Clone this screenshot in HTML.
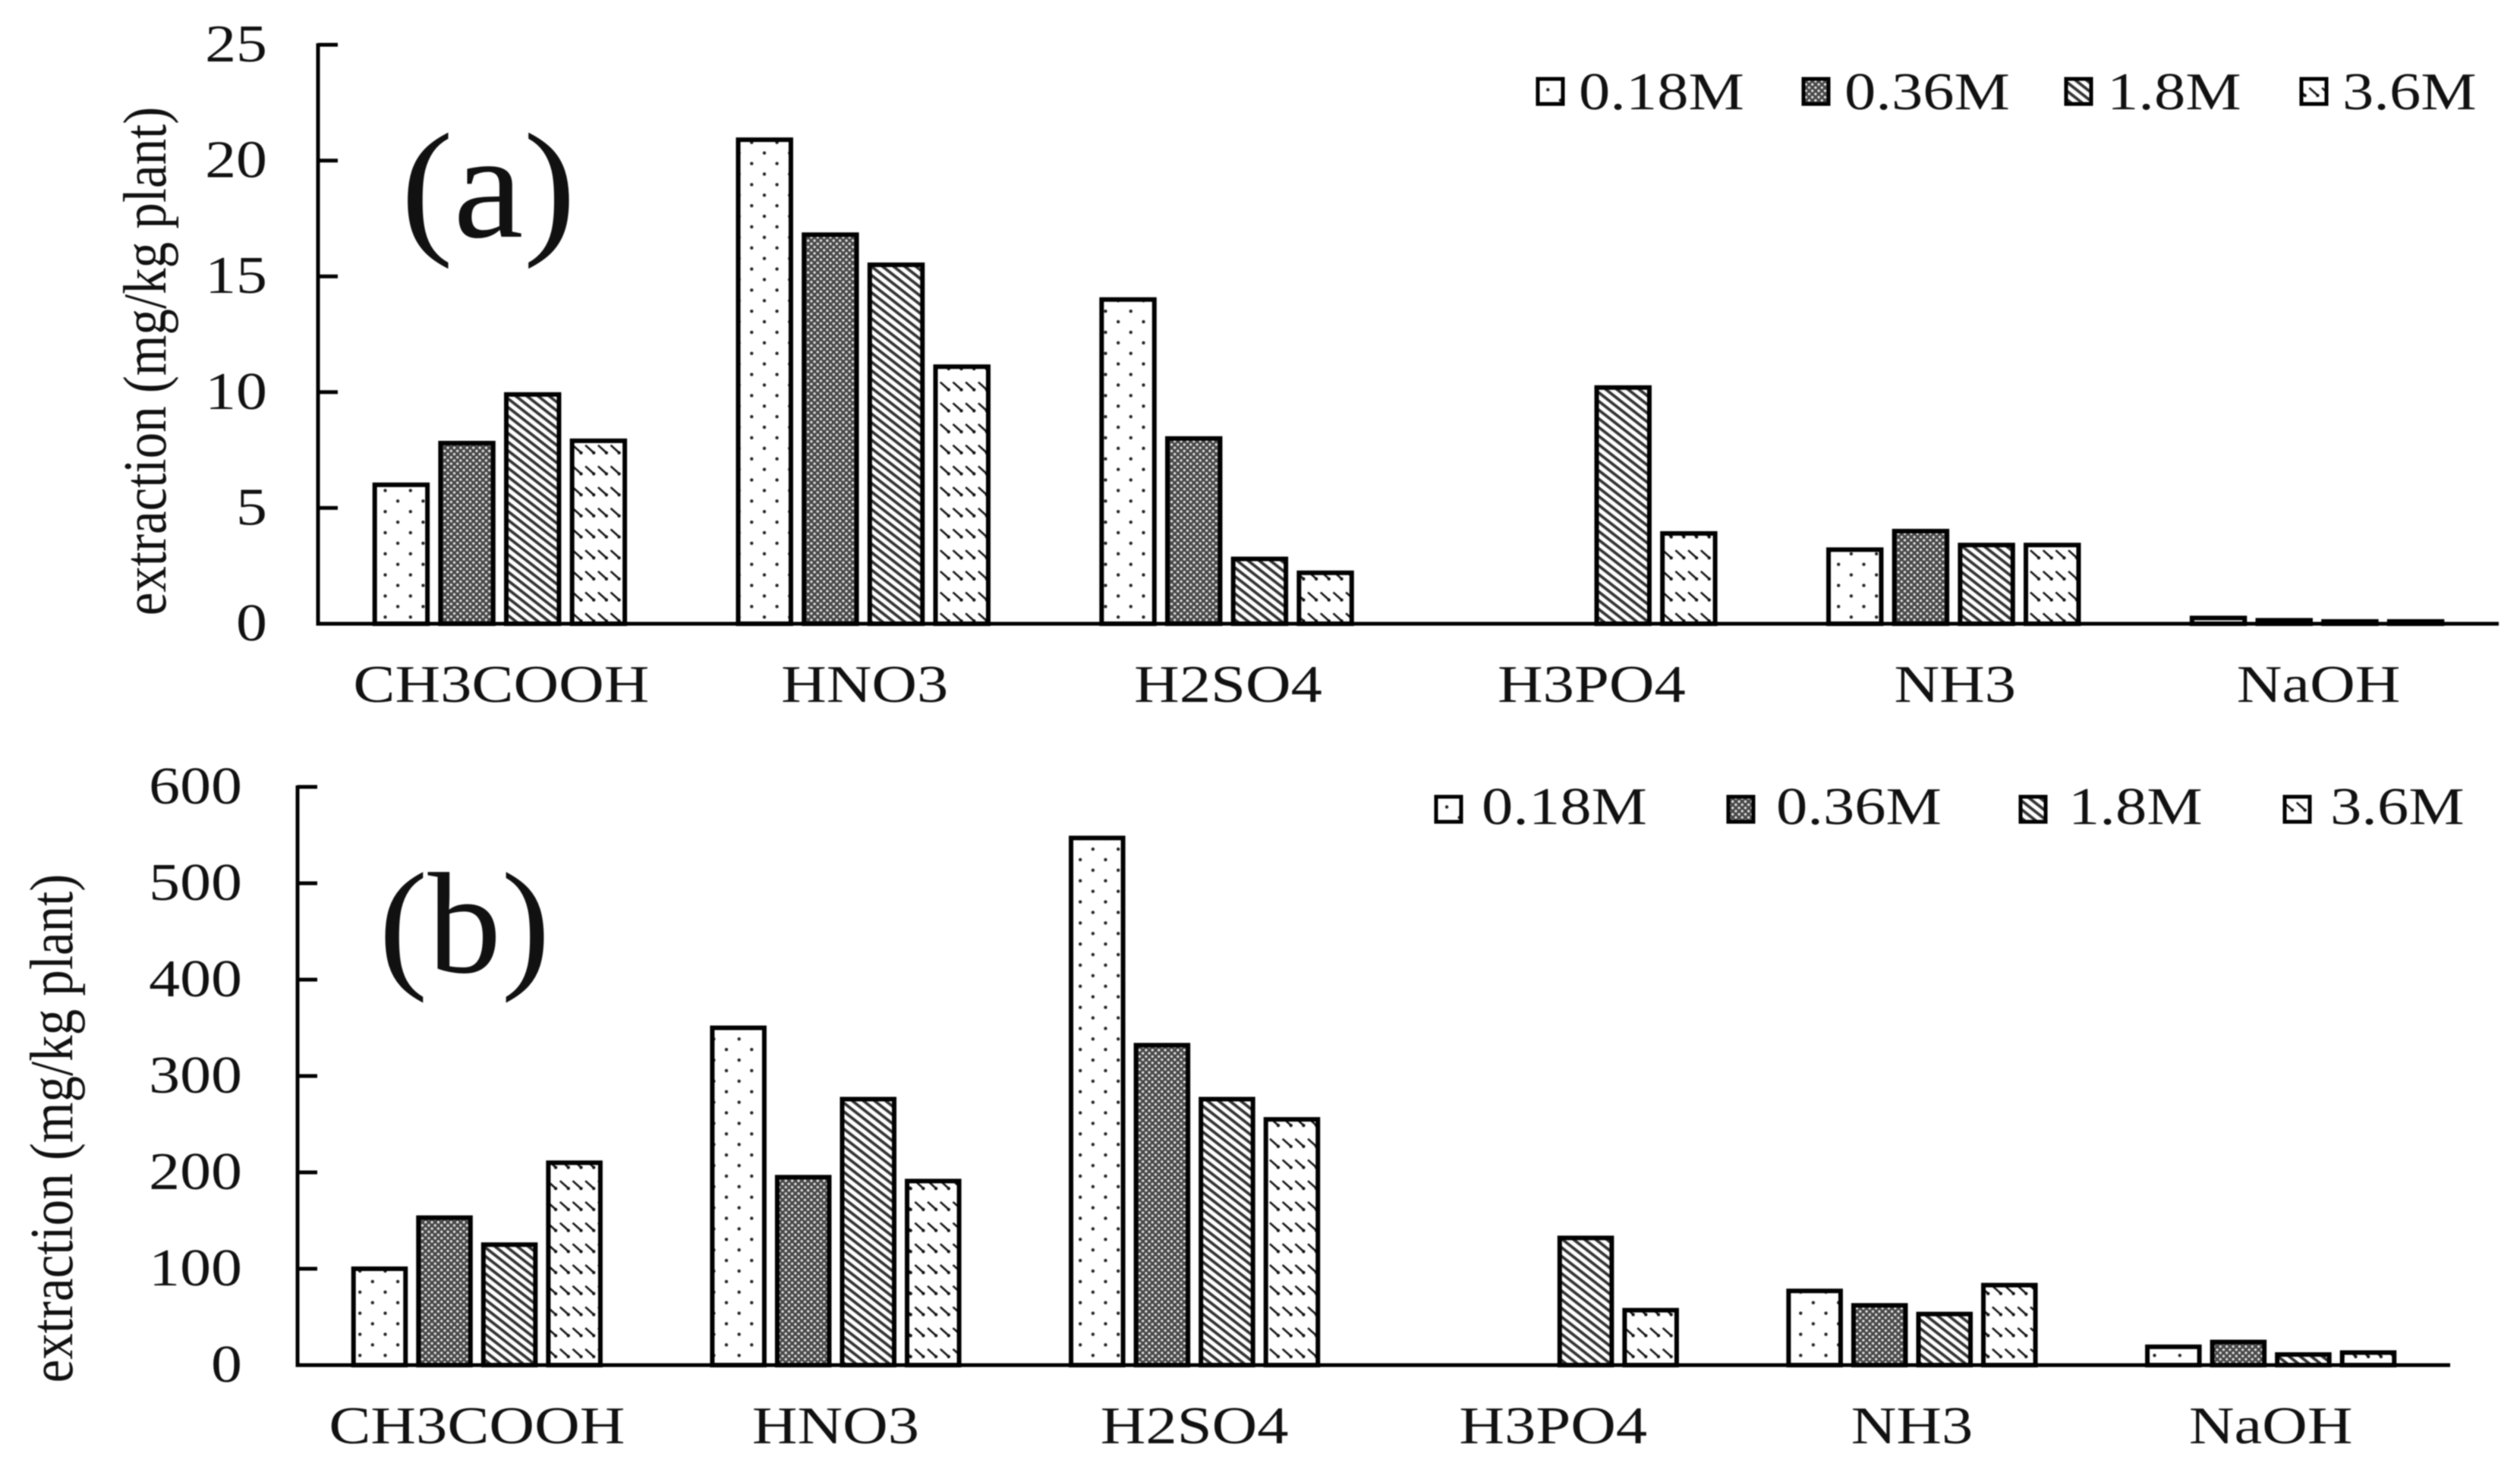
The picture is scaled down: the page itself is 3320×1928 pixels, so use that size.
<!DOCTYPE html>
<html lang="en">
<head>
<meta charset="utf-8">
<title>Extraction by acid and base concentration</title>
<style>
html,body{margin:0;padding:0;background:#fff;width:3320px;height:1928px;overflow:hidden}
svg{display:block;filter:blur(0.7px)}
text{font-family:"Liberation Serif",serif;fill:#111}
</style>
</head>
<body>
<svg id="chart" xmlns="http://www.w3.org/2000/svg" width="3320" height="1928" viewBox="0 0 3320 1928">
<defs>
<pattern id="p0" patternUnits="userSpaceOnUse" width="33.3" height="27.8"><rect width="33.3" height="27.8" fill="#fff"/><circle cx="8" cy="7" r="2.2" fill="#222"/><circle cx="24.6" cy="20.9" r="2.2" fill="#222"/></pattern>
<pattern id="p1" patternUnits="userSpaceOnUse" width="8.4" height="8.4"><rect width="8.4" height="8.4" fill="#4a4a4a"/><circle cx="2.1" cy="2.1" r="1.6" fill="#eee"/><circle cx="6.3" cy="6.3" r="1.6" fill="#eee"/></pattern>
<pattern id="p2" patternUnits="userSpaceOnUse" width="10" height="9" patternTransform="rotate(38)"><rect width="10" height="9" fill="#fff"/><rect y="0" width="10" height="3.8" fill="#333"/></pattern>
<pattern id="p3" patternUnits="userSpaceOnUse" width="16.7" height="27.7"><rect width="16.7" height="27.7" fill="#fff"/><line x1="3" y1="5" x2="13" y2="14" stroke="#111" stroke-width="2.6"/><circle cx="14" cy="15" r="2.2" fill="#111"/></pattern>
</defs>

<text transform="translate(528,312) scale(1.05,1)" font-size="198">(a)</text>
<text transform="translate(499,1281) scale(1.02,1)" font-size="190">(b)</text>

<text transform="translate(218,476) rotate(-90) scale(1,1.17)" text-anchor="middle" font-size="69">extraction (mg/kg plant)</text>
<text transform="translate(95,1487) rotate(-90) scale(1,1.17)" text-anchor="middle" font-size="69">extraction (mg/kg plant)</text>

<g>
<g><rect x="2026" y="104" width="33" height="33" fill="url(#p0)" stroke="#000" stroke-width="5"/><text transform="translate(2080,144) scale(1.18,1)" font-size="70">0.18M</text></g>
<g><rect x="2376" y="104" width="33" height="33" fill="url(#p1)" stroke="#000" stroke-width="5"/><text transform="translate(2430,144) scale(1.18,1)" font-size="70">0.36M</text></g>
<g><rect x="2722" y="104" width="33" height="33" fill="url(#p2)" stroke="#000" stroke-width="5"/><text transform="translate(2776,144) scale(1.18,1)" font-size="70">1.8M</text></g>
<g><rect x="3032" y="104" width="33" height="33" fill="url(#p3)" stroke="#000" stroke-width="5"/><text transform="translate(3086,144) scale(1.18,1)" font-size="70">3.6M</text></g>
</g>

<g>
<g><rect x="1892" y="1050" width="33" height="33" fill="url(#p0)" stroke="#000" stroke-width="5"/><text transform="translate(1952,1086) scale(1.18,1)" font-size="70">0.18M</text></g>
<g><rect x="2277" y="1050" width="33" height="33" fill="url(#p1)" stroke="#000" stroke-width="5"/><text transform="translate(2340,1086) scale(1.18,1)" font-size="70">0.36M</text></g>
<g><rect x="2662" y="1050" width="33" height="33" fill="url(#p2)" stroke="#000" stroke-width="5"/><text transform="translate(2725,1086) scale(1.18,1)" font-size="70">1.8M</text></g>
<g><rect x="3010" y="1050" width="33" height="33" fill="url(#p3)" stroke="#000" stroke-width="5"/><text transform="translate(3070,1086) scale(1.18,1)" font-size="70">3.6M</text></g>
</g>

<g id="plot-a"></g>
<g id="plot-b"></g>
</svg>

<script>
const categories = ["CH3COOH", "HNO3", "H2SO4", "H3PO4", "NH3", "NaOH"];
const concentrations = ["0.18M", "0.36M", "1.8M", "3.6M"];

const ticksA = [0, 5, 10, 15, 20, 25];
const a018 = [6.0, 20.9, 14.0, 0, 3.2, 0.25];
const a036 = [7.8, 16.8, 8.0, 0, 4.0, 0.15];
const a18 = [9.9, 15.5, 2.8, 10.2, 3.4, 0.1];
const a36 = [7.9, 11.1, 2.2, 3.9, 3.4, 0.1];

const ticksB = [0, 100, 200, 300, 400, 500, 600];
const b018 = [100, 350, 547, 0, 77, 19];
const b036 = [153, 195, 332, 0, 62, 24];
const b18 = [125, 276, 276, 132, 53, 11];
const b36 = [210, 191, 255, 57, 83, 13];

const NS = "http://www.w3.org/2000/svg";

function make(parent, tag, attrs) {
  const el = document.createElementNS(NS, tag);
  for (const k in attrs) el.setAttribute(k, attrs[k]);
  parent.appendChild(el);
  return el;
}

function drawPlot(groupId, box, ticks, seriesList) {
  const g = document.getElementById(groupId);
  const maxV = ticks[ticks.length - 1];
  const yScale = v => box.y0 - (v / maxV) * (box.y0 - box.yTop);
  const band = (box.x1 - box.x0) / categories.length;
  const bandCenter = i => box.x0 + band * (i + 0.5);
  const step = band * 0.181;
  const barW = band * 0.145;
  const xScale = (i, s) => bandCenter(i) + box.barShift + (s - (seriesList.length - 1) / 2) * step - barW / 2;

  seriesList.forEach((vals, s) => {
    vals.forEach((v, i) => {
      if (v <= 0) return;
      const y = yScale(v);
      const bar = make(g, "rect", {
        x: xScale(i, s), y: y, width: barW, height: box.y0 - y,
        fill: "url(#p" + s + ")", stroke: "#000", "stroke-width": 6
      });
      
      
    });
  });

  const yAxis = make(g, "line", {x1: box.x0, y1: box.yTop - 2, x2: box.x0, y2: box.y0 + 2.5, stroke: "#000", "stroke-width": 5});
  
  

  const xAxis = make(g, "line", {x1: box.x0 - 2, y1: box.y0, x2: box.x1, y2: box.y0, stroke: "#000", "stroke-width": 5});
  
  

  ticks.forEach(t => {
    const y = yScale(t);
    const tick = make(g, "line", {x1: box.x0, y1: y, x2: box.x0 + 26, y2: y, stroke: "#000", "stroke-width": 5});
    
    
    const label = make(g, "text", {
      transform: "translate(" + box.tickRight + "," + (y + 22) + ") scale(1.17,1)",
      "text-anchor": "end", "font-size": 70
    });
    label.textContent = String(t);
    
    
  });

  categories.forEach((c, i) => {
    const label = make(g, "text", {
      transform: "translate(" + (bandCenter(i) + box.catShift) + "," + box.catBase + ") scale(1.18,1)",
      "text-anchor": "middle", "font-size": 70
    });
    label.textContent = c;
    
    
  });
}

drawPlot("plot-a", {x0: 419, x1: 3292, y0: 822, yTop: 59, tickRight: 352, catBase: 925, barShift: 0, catShift: 2}, ticksA, [a018, a036, a18, a36]);
drawPlot("plot-b", {x0: 392, x1: 3228, y0: 1799, yTop: 1037, tickRight: 319, catBase: 1902, barShift: 0, catShift: 0}, ticksB, [b018, b036, b18, b36]);
</script>
</body>
</html>
